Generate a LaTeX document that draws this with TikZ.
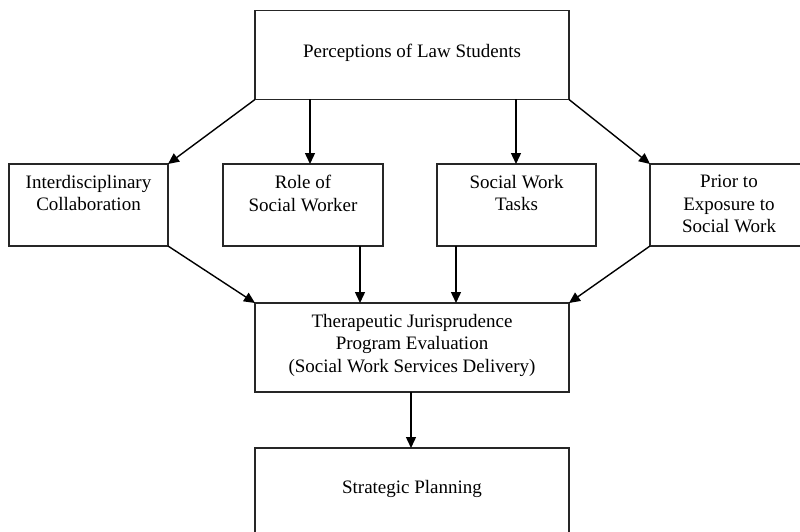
\documentclass[tikz,border=0pt]{standalone}
\usepackage{fontspec}
\setmainfont{Liberation Serif}
\usetikzlibrary{arrows.meta}
\begin{document}
\begin{tikzpicture}[x=1pt,y=-1pt,
  box/.style={draw=black!85,line width=1.4pt,rectangle,inner sep=0pt,outer sep=0pt,anchor=north west},
  txt/.style={font=\fontsize{19}{22.5}\selectfont,align=center,inner sep=0pt,anchor=north},
  arr/.style={line width=1.4pt,-{Triangle[length=11pt,width=10pt]}}]
\useasboundingbox (0,0) rectangle (800,532);
\clip (0,0) rectangle (800,532);
% boxes
\node[box,minimum width=314,minimum height=89] (top) at (255,10.5) {};
\node[box,minimum width=159,minimum height=82] (left) at (9,164) {};
\node[box,minimum width=160,minimum height=82] (role) at (223,164) {};
\node[box,minimum width=159,minimum height=82] (tasks) at (437,164) {};
\node[box,minimum width=158,minimum height=82] (prior) at (650,164) {};
\node[box,minimum width=314,minimum height=89] (ther) at (255,303) {};
\node[box,minimum width=314,minimum height=89] (strat) at (255,448) {};
% texts
\node[txt] (ttop) at ([yshift=-33.5]top.north) {Perceptions of Law Students};
\node[txt] (tleft) at ([yshift=-11]left.north) {Interdisciplinary\\Collaboration};
\node[txt] (trole) at ([yshift=-11]role.north) {Role of\\Social Worker};
\node[txt] (ttasks) at ([yshift=-11]tasks.north) {Social Work\\Tasks};
\node[txt] (tprior) at ([yshift=-11]prior.north) {Prior to\\Exposure to\\Social Work};
\node[txt] (tther) at ([yshift=-11]ther.north) {Therapeutic Jurisprudence\\Program Evaluation\\(Social Work Services Delivery)};
\node[txt] (tstrat) at ([yshift=-32]strat.north) {Strategic Planning};
% helper coordinates
\coordinate (r1) at ([xshift=7]role.north);
\coordinate (s1) at ([xshift=-0.5]tasks.north);
\coordinate (r2) at ([xshift=57]role.south);
\coordinate (s2) at ([xshift=-60.5]tasks.south);
% connectors
\draw[arr] (top.south west) -- (left.north east);
\draw[arr] (r1 |- top.south) -- (r1);
\draw[arr] (s1 |- top.south) -- (s1);
\draw[arr] (top.south east) -- (prior.north west);
\draw[arr] (left.south east) -- (ther.north west);
\draw[arr] (r2) -- (r2 |- ther.north);
\draw[arr] (s2) -- (s2 |- ther.north);
\draw[arr] (prior.south west) -- (ther.north east);
\draw[arr] ([xshift=-1]ther.south) -- ([xshift=-1]strat.north);
\end{tikzpicture}
\end{document}
